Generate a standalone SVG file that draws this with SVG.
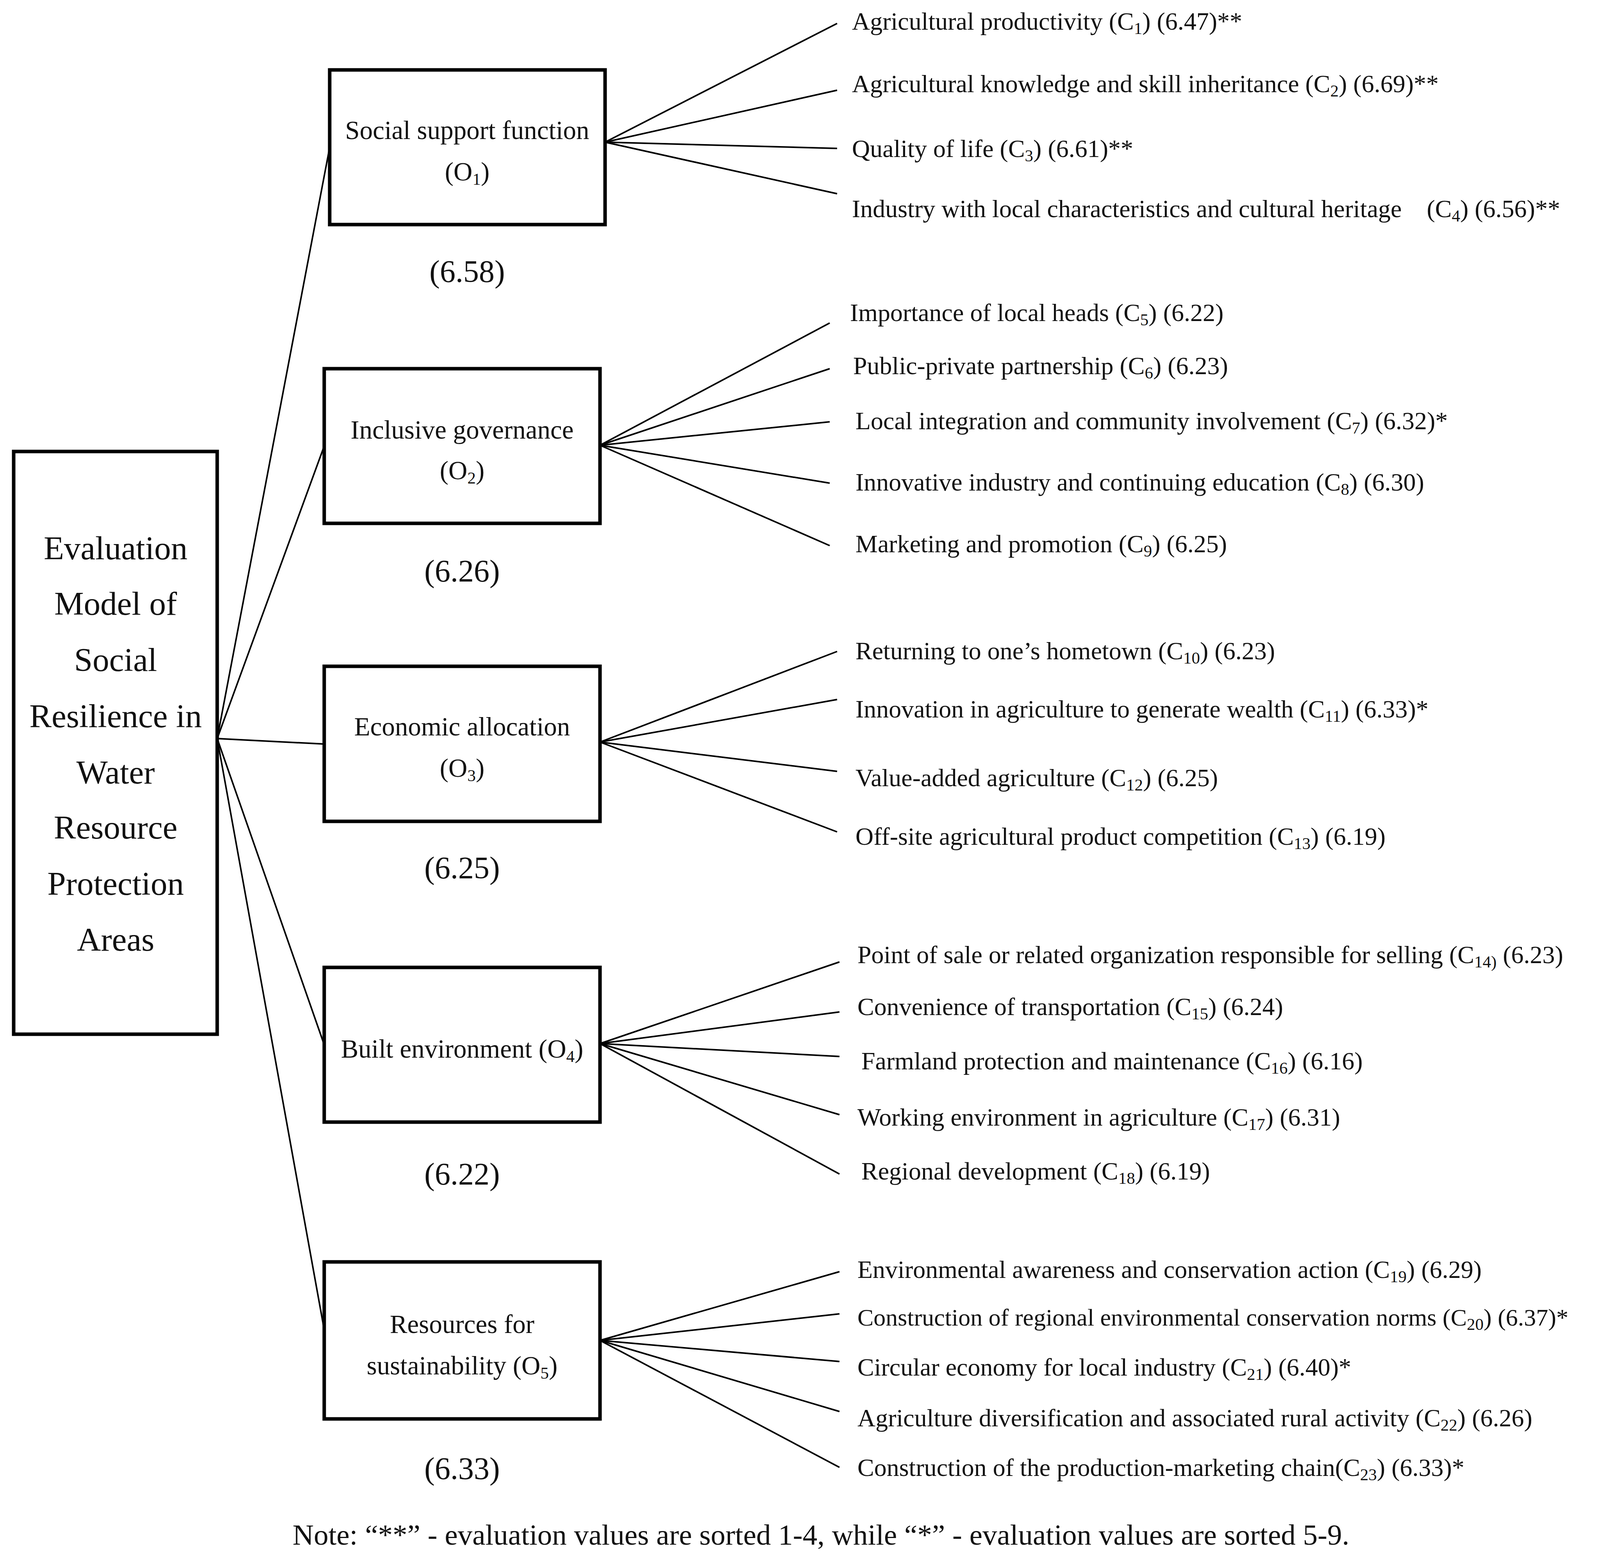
<svg xmlns="http://www.w3.org/2000/svg" width="4251" height="3984" viewBox="0 0 4251 3984">
<style>
text{font-family:"Liberation Serif","Times New Roman",serif;fill:#111}
.b{fill:#fff;stroke:#000;stroke-width:9}
.l{stroke:#000;stroke-width:4;fill:none}
.t{font-size:64px}
.m{font-size:67px;text-anchor:middle}
.s{font-size:80px;text-anchor:middle}
.r{font-size:85px;text-anchor:middle}
.u{font-size:43px}
</style>
<rect width="4251" height="3984" fill="#fff"/>
<g id="connectors" class="l">
<line x1="556" y1="1891" x2="844" y2="377"/>
<line x1="556" y1="1891" x2="830" y2="1142"/>
<line x1="556" y1="1891" x2="830" y2="1905"/>
<line x1="556" y1="1891" x2="830" y2="2675"/>
<line x1="556" y1="1891" x2="830" y2="3405"/>
<line x1="1549" y1="364" x2="2143" y2="60"/>
<line x1="1549" y1="364" x2="2143" y2="231"/>
<line x1="1549" y1="364" x2="2143" y2="380"/>
<line x1="1549" y1="364" x2="2143" y2="496"/>
<line x1="1536" y1="1140" x2="2124" y2="827"/>
<line x1="1536" y1="1140" x2="2124" y2="944"/>
<line x1="1536" y1="1140" x2="2124" y2="1080"/>
<line x1="1536" y1="1140" x2="2124" y2="1237"/>
<line x1="1536" y1="1140" x2="2124" y2="1397"/>
<line x1="1536" y1="1900" x2="2143" y2="1668"/>
<line x1="1536" y1="1900" x2="2143" y2="1791"/>
<line x1="1536" y1="1900" x2="2143" y2="1975"/>
<line x1="1536" y1="1900" x2="2143" y2="2130"/>
<line x1="1536" y1="2672" x2="2149" y2="2463"/>
<line x1="1536" y1="2672" x2="2149" y2="2591"/>
<line x1="1536" y1="2672" x2="2149" y2="2705"/>
<line x1="1536" y1="2672" x2="2149" y2="2854"/>
<line x1="1536" y1="2672" x2="2149" y2="3006"/>
<line x1="1536" y1="3432" x2="2149" y2="3256"/>
<line x1="1536" y1="3432" x2="2149" y2="3364"/>
<line x1="1536" y1="3432" x2="2149" y2="3486"/>
<line x1="1536" y1="3432" x2="2149" y2="3614"/>
<line x1="1536" y1="3432" x2="2149" y2="3757"/>
</g>
<g id="root">
<rect class="b" x="35" y="1156" width="521" height="1492"/>
<text class="r" x="296" y="1432">Evaluation</text>
<text class="r" x="296" y="1574">Model of</text>
<text class="r" x="296" y="1718">Social</text>
<text class="r" x="296" y="1862">Resilience in</text>
<text class="r" x="296" y="2006">Water</text>
<text class="r" x="296" y="2147">Resource</text>
<text class="r" x="296" y="2291">Protection</text>
<text class="r" x="296" y="2434">Areas</text>
</g>
<g id="O1">
<rect class="b" x="844" y="179" width="705" height="396"/>
<text class="m" x="1196" y="356">Social support function</text>
<text class="m" x="1196" y="462">(O<tspan class="u" dy="11">1</tspan><tspan dy="-11">)</tspan></text>
<text class="s" x="1196" y="722">(6.58)</text>
</g>
<g id="O2">
<rect class="b" x="830" y="944" width="706" height="396"/>
<text class="m" x="1183" y="1123">Inclusive governance</text>
<text class="m" x="1183" y="1227">(O<tspan class="u" dy="11">2</tspan><tspan dy="-11">)</tspan></text>
<text class="s" x="1183" y="1489">(6.26)</text>
</g>
<g id="O3">
<rect class="b" x="830" y="1706" width="706" height="397"/>
<text class="m" x="1183" y="1883">Economic allocation</text>
<text class="m" x="1183" y="1989">(O<tspan class="u" dy="11">3</tspan><tspan dy="-11">)</tspan></text>
<text class="s" x="1183" y="2249">(6.25)</text>
</g>
<g id="O4">
<rect class="b" x="830" y="2477" width="706" height="396"/>
<text class="m" x="1183" y="2708">Built environment (O<tspan class="u" dy="11">4</tspan><tspan dy="-11">)</tspan></text>
<text class="s" x="1183" y="3033">(6.22)</text>
</g>
<g id="O5">
<rect class="b" x="830" y="3231" width="706" height="402"/>
<text class="m" x="1183" y="3413">Resources for</text>
<text class="m" x="1183" y="3519">sustainability (O<tspan class="u" dy="11">5</tspan><tspan dy="-11">)</tspan></text>
<text class="s" x="1183" y="3787">(6.33)</text>
</g>
<g id="leaves">
<text class="t" x="2181" y="76">Agricultural productivity (C<tspan class="u" dy="11">1</tspan><tspan dy="-11">) (6.47)**</tspan></text>
<text class="t" x="2181" y="236">Agricultural knowledge and skill inheritance (C<tspan class="u" dy="11">2</tspan><tspan dy="-11">) (6.69)**</tspan></text>
<text class="t" x="2181" y="402">Quality of life (C<tspan class="u" dy="11">3</tspan><tspan dy="-11">) (6.61)**</tspan></text>
<text class="t" x="2181" y="556" xml:space="preserve">Industry with local characteristics and cultural heritage    (C<tspan class="u" dy="11">4</tspan><tspan dy="-11">) (6.56)**</tspan></text>
<text class="t" x="2176" y="822">Importance of local heads (C<tspan class="u" dy="11">5</tspan><tspan dy="-11">) (6.22)</tspan></text>
<text class="t" x="2184" y="958">Public-private partnership (C<tspan class="u" dy="11">6</tspan><tspan dy="-11">) (6.23)</tspan></text>
<text class="t" x="2190" y="1099">Local integration and community involvement (C<tspan class="u" dy="11">7</tspan><tspan dy="-11">) (6.32)*</tspan></text>
<text class="t" x="2190" y="1256">Innovative industry and continuing education (C<tspan class="u" dy="11">8</tspan><tspan dy="-11">) (6.30)</tspan></text>
<text class="t" x="2190" y="1414">Marketing and promotion (C<tspan class="u" dy="11">9</tspan><tspan dy="-11">) (6.25)</tspan></text>
<text class="t" x="2190" y="1688">Returning to one’s hometown (C<tspan class="u" dy="11">10</tspan><tspan dy="-11">) (6.23)</tspan></text>
<text class="t" x="2190" y="1837">Innovation in agriculture to generate wealth (C<tspan class="u" dy="11">11</tspan><tspan dy="-11">) (6.33)*</tspan></text>
<text class="t" x="2190" y="2013">Value-added agriculture (C<tspan class="u" dy="11">12</tspan><tspan dy="-11">) (6.25)</tspan></text>
<text class="t" x="2190" y="2163">Off-site agricultural product competition (C<tspan class="u" dy="11">13</tspan><tspan dy="-11">) (6.19)</tspan></text>
<text class="t" x="2195" y="2466">Point of sale or related organization responsible for selling (C<tspan class="u" dy="11">14)</tspan><tspan dy="-11"> (6.23)</tspan></text>
<text class="t" x="2195" y="2599">Convenience of transportation (C<tspan class="u" dy="11">15</tspan><tspan dy="-11">) (6.24)</tspan></text>
<text class="t" x="2205" y="2738">Farmland protection and maintenance (C<tspan class="u" dy="11">16</tspan><tspan dy="-11">) (6.16)</tspan></text>
<text class="t" x="2195" y="2882">Working environment in agriculture (C<tspan class="u" dy="11">17</tspan><tspan dy="-11">) (6.31)</tspan></text>
<text class="t" x="2205" y="3020">Regional development (C<tspan class="u" dy="11">18</tspan><tspan dy="-11">) (6.19)</tspan></text>
<text class="t" x="2195" y="3272">Environmental awareness and conservation action (C<tspan class="u" dy="11">19</tspan><tspan dy="-11">) (6.29)</tspan></text>
<text class="t" x="2195" y="3394" style="font-size:62px">Construction of regional environmental conservation norms (C<tspan class="u" dy="11">20</tspan><tspan dy="-11">) (6.37)*</tspan></text>
<text class="t" x="2195" y="3522">Circular economy for local industry (C<tspan class="u" dy="11">21</tspan><tspan dy="-11">) (6.40)*</tspan></text>
<text class="t" x="2195" y="3652">Agriculture diversification and associated rural activity (C<tspan class="u" dy="11">22</tspan><tspan dy="-11">) (6.26)</tspan></text>
<text class="t" x="2195" y="3779">Construction of the production-marketing chain(C<tspan class="u" dy="11">23</tspan><tspan dy="-11">) (6.33)*</tspan></text>
</g>
<text x="749" y="3955" style="font-size:75px">Note: “**” - evaluation values are sorted 1-4, while “*” - evaluation values are sorted 5-9.</text>
</svg>
